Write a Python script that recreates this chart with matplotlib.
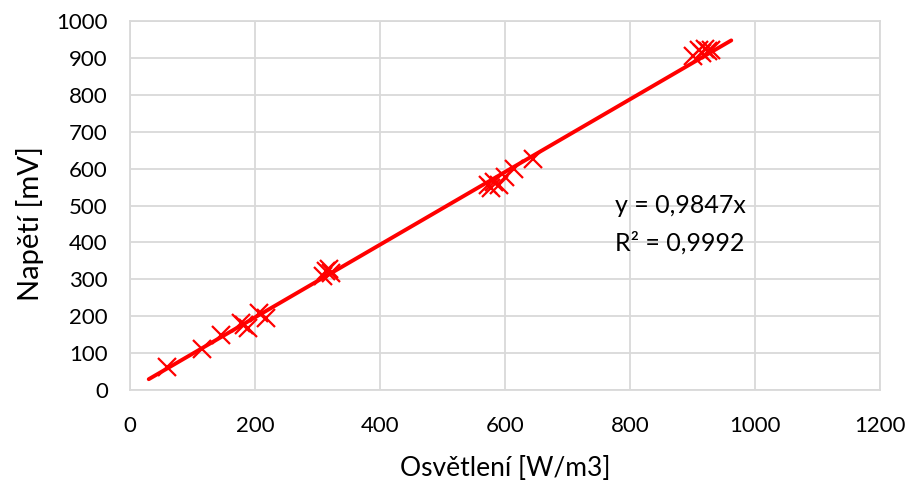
import matplotlib
matplotlib.use("Agg")
import matplotlib.pyplot as plt
import numpy as np

plt.rcParams['font.family'] = ['Lato', 'DejaVu Sans']

osvetleni = [59, 115, 145, 178, 183, 188, 207, 218, 308, 313, 318, 322,
             572, 578, 583, 590, 600, 615, 645, 900, 910, 915, 920, 925, 930]
napeti = [62, 112, 148, 182, 175, 168, 208, 195, 310, 322, 328, 318,
          555, 548, 565, 555, 578, 598, 625, 905, 920, 912, 925, 918, 922]
slope = 0.9847
r2 = 0.9992
trend_x = [30, 962]
x_ticks = [0, 200, 400, 600, 800, 1000, 1200]
y_ticks = [0, 100, 200, 300, 400, 500, 600, 700, 800, 900, 1000]

fig = plt.figure(figsize=(9.11, 4.87), dpi=100)
ax = fig.add_axes([0.1427, 0.199, 0.966 - 0.1427, 0.957 - 0.199])

red = '#ff0000'
ax.plot(osvetleni, napeti, linestyle='none', marker='x', markersize=13,
        markeredgewidth=1.6, color=red, zorder=3)
tx = np.array(trend_x, dtype=float)
ax.plot(tx, slope * tx, color=red, linewidth=2.8, solid_capstyle='round', zorder=4)

ax.set_xlim(0, 1200)
ax.set_ylim(0, 1000)
ax.set_xticks(x_ticks)
ax.set_yticks(y_ticks)
ax.grid(True, color='#d9d9d9', linewidth=1.3)
ax.set_axisbelow(True)
for s in ax.spines.values():
    s.set_color('#d9d9d9')
    s.set_linewidth(1.3)
ax.tick_params(length=0, labelsize=16, colors='#000000')
ax.tick_params(axis='x', pad=19)
ax.tick_params(axis='y', pad=16)

ax.set_xlabel('Osvětlení [W/m3]', fontsize=19, labelpad=14)
ax.set_ylabel('Napětí [mV]', fontsize=21, labelpad=12)
ax.yaxis.set_label_coords(-0.115, 0.45)

ax.text(776, 500, 'y = 0,9847x', fontsize=18, va='center', ha='left')
ax.text(776, 400, 'R² = 0,9992', fontsize=18, va='center', ha='left')

fig.savefig('out.png', dpi=100)
